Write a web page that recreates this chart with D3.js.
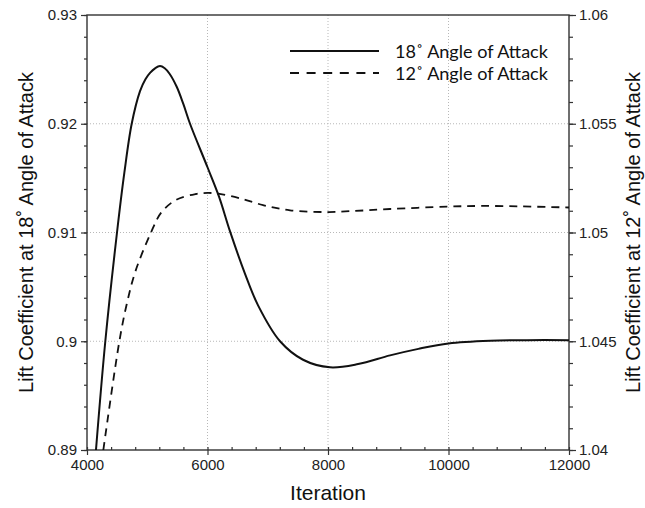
<!DOCTYPE html>
<html>
<head>
<meta charset="utf-8">
<script src="https://cdn.jsdelivr.net/npm/d3@7"></script>
<style>
  body { margin: 0; background: #fff; }
  svg { display: block; }
</style>
</head>
<body>
<svg id="chart" width="645" height="508"></svg>
<script>
// values: [iteration, lift coefficient]
const lift18 = [
	[4149, 0.8900], [4304, 0.9000], [4498, 0.9100], [4620, 0.9155], [4742, 0.9200],
	[4880, 0.9230], [4970, 0.9241], [5050, 0.9247], [5130, 0.9251], [5212, 0.9253],
	[5290, 0.9251], [5370, 0.9246], [5489, 0.9234], [5600, 0.9218], [5710, 0.9200],
	[6000, 0.9160], [6191, 0.9133], [6374, 0.9101], [6623, 0.9062], [6839, 0.9033],
	[7204, 0.9000], [7586, 0.8983], [8034, 0.8976], [8500, 0.8979], [9030, 0.8987],
	[9500, 0.8993], [10000, 0.8998], [10690, 0.90005], [11300, 0.9001], [12000, 0.9001]
];
const lift12 = [
	[4271, 1.0400], [4537, 1.0450], [4659, 1.0467], [4802, 1.0482], [5062, 1.0500],
	[5228, 1.0509], [5477, 1.0515], [5809, 1.05177], [6000, 1.05182], [6200, 1.05178],
	[6540, 1.05157], [6922, 1.05126], [7370, 1.05102], [8000, 1.05094], [8366, 1.05098],
	[9030, 1.05108], [10000, 1.05119], [10524, 1.05122], [11200, 1.0512], [11851, 1.05116],
	[12000, 1.05115]
];
const xTicks = [4000, 6000, 8000, 10000, 12000];
const leftTicks = [0.89, 0.9, 0.91, 0.92, 0.93];
const rightTicks = [1.04, 1.045, 1.05, 1.055, 1.06];
const legendLabels = ['18˚ Angle of Attack', '12˚ Angle of Attack'];

const svg = d3.select('#chart');
const margin = { top: 15, right: 76, bottom: 58, left: 87 };
const width = 645 - margin.left - margin.right;
const height = 508 - margin.top - margin.bottom;
const g = svg.append('g').attr('transform', `translate(${margin.left},${margin.top})`);

const x = d3.scaleLinear().domain([4000, 12000]).range([0, width]);
const yL = d3.scaleLinear().domain([0.89, 0.93]).range([height, 0]);
const yR = d3.scaleLinear().domain([1.04, 1.06]).range([height, 0]);

const axisColor = '#333';
const tickFont = '15px "Liberation Sans", Arial, sans-serif';

// dotted grid
const grid = g.append('g').attr('stroke', '#b8b8b8').attr('stroke-width', 1).attr('stroke-dasharray', '1,2');
xTicks.slice(1, -1).forEach(v => {
	grid.append('line').attr('x1', x(v)).attr('x2', x(v)).attr('y1', 0).attr('y2', height);
});
leftTicks.slice(1, -1).forEach(v => {
	grid.append('line').attr('x1', 0).attr('x2', width).attr('y1', yL(v)).attr('y2', yL(v));
});

const styleAxis = sel => {
	sel.select('.domain').remove();
	sel.selectAll('line').attr('stroke', axisColor).attr('stroke-width', 1.2);
	sel.selectAll('text').style('font', tickFont).attr('fill', '#222');
};

// minor ticks
const minorX = d3.range(4000, 12001, 400);
const minorL = d3.range(0, 21).map(i => 0.89 + i * 0.002);
const minorR = d3.range(0, 21).map(i => 1.04 + i * 0.001);

g.append('g').attr('transform', `translate(0,${height})`)
	.call(d3.axisBottom(x).tickValues(minorX).tickSize(-3).tickFormat(''))
	.call(styleAxis);
g.append('g')
	.call(d3.axisLeft(yL).tickValues(minorL).tickSize(3).tickFormat(''))
	.call(styleAxis);
g.append('g').attr('transform', `translate(${width},0)`)
	.call(d3.axisRight(yR).tickValues(minorR).tickSize(4).tickFormat(''))
	.call(styleAxis);

// major ticks
g.append('g').attr('transform', `translate(0,${height})`)
	.call(d3.axisBottom(x).tickValues(xTicks).tickSize(5).tickPadding(4).tickFormat(d3.format('d')))
	.call(styleAxis);
g.append('g')
	.call(d3.axisLeft(yL).tickValues(leftTicks).tickSize(6).tickPadding(4).tickFormat(d => String(+d.toFixed(3))))
	.call(styleAxis);
g.append('g').attr('transform', `translate(${width},0)`)
	.call(d3.axisRight(yR).tickValues(rightTicks).tickSize(7).tickPadding(3).tickFormat(d => String(+d.toFixed(3))))
	.call(styleAxis);

// frame
g.append('rect').attr('width', width).attr('height', height)
	.attr('fill', 'none').attr('stroke', axisColor).attr('stroke-width', 1.4);

// curves
svg.append('clipPath').attr('id', 'plot').append('rect').attr('width', width).attr('height', height);
const curves = g.append('g').attr('clip-path', 'url(#plot)');

const lineL = d3.line().x(d => x(d[0])).y(d => yL(d[1])).curve(d3.curveCatmullRom.alpha(0.5));
const lineR = d3.line().x(d => x(d[0])).y(d => yR(d[1])).curve(d3.curveCatmullRom.alpha(0.5));

curves.append('path').datum(lift18).attr('d', lineL)
	.attr('fill', 'none').attr('stroke', '#111').attr('stroke-width', 2);
curves.append('path').datum(lift12).attr('d', lineR)
	.attr('fill', 'none').attr('stroke', '#111').attr('stroke-width', 1.8)
	.attr('stroke-dasharray', '8,6');

// legend
const legend = g.append('g').attr('transform', `translate(${290 - margin.left},${51 - margin.top})`);
legendLabels.forEach((label, i) => {
	const row = legend.append('g').attr('transform', `translate(0,${i * 22})`);
	row.append('line').attr('x1', 0).attr('x2', 89).attr('y1', 0).attr('y2', 0)
		.attr('stroke', '#111').attr('stroke-width', i ? 1.8 : 2)
		.attr('stroke-dasharray', i ? '9,7.6' : null);
	const t = row.append('text').attr('x', 105).attr('y', 0).attr('dy', '0.36em')
		.style('font', '16px Lato, "Open Sans", sans-serif').attr('fill', '#111')
		.text(label);
	// size the label to the width it has in the picture
	const w = t.node().getComputedTextLength();
	t.style('font-size', (16 * 153 / w).toFixed(2) + 'px');
});

// axis titles
const titleFont = '20px "Liberation Sans", Arial, sans-serif';
svg.append('text').attr('x', margin.left + width / 2).attr('y', 500)
	.attr('text-anchor', 'middle').style('font', '21px "Liberation Sans", Arial, sans-serif').attr('fill', '#111')
	.text('Iteration');
svg.append('text').attr('transform', `translate(33,${margin.top + height / 2}) rotate(-90)`)
	.attr('text-anchor', 'middle').style('font', titleFont).attr('fill', '#111')
	.text('Lift Coefficient at 18˚ Angle of Attack');
svg.append('text').attr('transform', `translate(640,${margin.top + height / 2}) rotate(-90)`)
	.attr('text-anchor', 'middle').style('font', titleFont).attr('fill', '#111')
	.text('Lift Coefficient at 12˚ Angle of Attack');
</script>
</body>
</html>
